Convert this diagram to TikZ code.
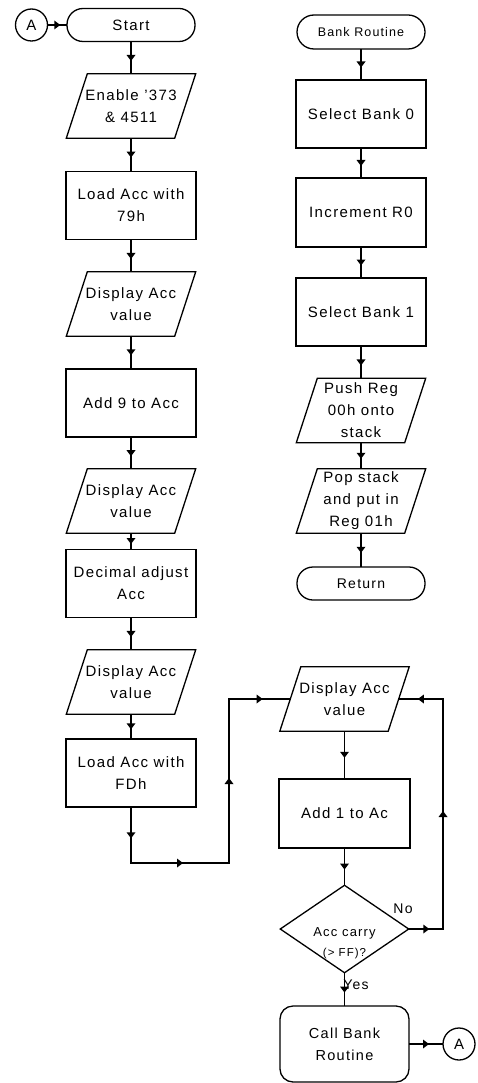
\documentclass[tikz,border=0pt]{standalone}
\usepackage{fontspec}
\setmainfont{Liberation Sans}[LetterSpace=9]
\usetikzlibrary{shapes.geometric,arrows.meta,decorations.markings,calc}
\newcommand{\paral}[4]{%
  \node[pnode] (#1) at (#2,#3) {#4};
  \draw[shapeline] (#1.south west) -- ($(#1.north west)+(21,0)$) -- (#1.north east) -- ($(#1.south east)+(-21,0)$) -- cycle;
}
\begin{document}
\begin{tikzpicture}[x=1pt,y=-1pt,
  shapeline/.style={line width=1.3pt, line join=miter},
  base/.style={inner sep=0pt, align=center, font=\fontsize{15}{22}\selectfont},
  procbox/.style={base, draw, shapeline, minimum width=130pt, minimum height=68pt},
  term/.style={base, draw, shapeline, minimum width=128pt, minimum height=33pt, rounded corners=16pt},
  pnode/.style={base, minimum width=129pt, minimum height=64pt},
  conn/.style={base, draw, shapeline, circle, minimum size=32pt},
  dia/.style={base, draw, shapeline, diamond, minimum width=129pt, minimum height=88pt, aspect=1.47},
  lab/.style={inner sep=0pt, font=\fontsize{14}{16}\selectfont},
  flow/.style={line width=1.1pt, line cap=rect, postaction=decorate,
    decoration={markings, mark=at position 0.5 with {\fill (3pt,0pt) -- (-3pt,4.5pt) -- (-3pt,-4.5pt) -- cycle;}}}
]
\useasboundingbox (0,0) rectangle (477,1083);

% left column
\node[conn] (ca1) at (31.5,25) {A};
\node[term] (start) at (131,25) {Start};
\paral{enable}{131}{106}{Enable '373\\\& 4511}
\node[procbox] (load79) at (131,205.5) {Load Acc with\\79h};
\paral{disp1}{131}{304}{Display Acc\\value}
\node[procbox] (add9) at (131,403) {Add 9 to Acc};
\paral{disp2}{131}{501}{Display Acc\\value}
\node[procbox] (dec) at (131,583.5) {Decimal adjust\\Acc};
\paral{disp3}{131}{682}{Display Acc\\value}
\node[procbox] (loadfd) at (131,773) {Load Acc with\\FDh};

% right column (bank routine)
\node[term, font=\fontsize{12.5}{14}\selectfont, minimum height=34pt, rounded corners=17pt] (bank) at (361,32) {Bank Routine};
\node[procbox] (sb0) at (361,114) {Select Bank 0};
\node[procbox, minimum height=69pt] (inc) at (361,212.5) {Increment R0};
\node[procbox] (sb1) at (361,312) {Select Bank 1};
\paral{push}{361}{410.5}{Push Reg\\00h onto\\stack}
\paral{pop}{361}{501}{Pop stack\\and put in\\Reg 01h}
\node[term, font=\fontsize{14}{16}\selectfont] (ret) at (361,583.5) {Return};

% lower right
\paral{disp4}{344.5}{699}{Display Acc\\value}
\node[procbox, minimum width=131pt, minimum height=69pt] (add1) at (344.5,813.5) {Add 1 to Ac};
\node[dia] (dia) at (344.5,929) {\raisebox{-16pt}[0pt][0pt]{\fontsize{13}{20}\selectfont\begin{tabular}{@{}c@{}}Acc carry\\{\fontsize{11.5}{12}\selectfont (> FF)?}\end{tabular}}};
\node[procbox, minimum width=129pt, minimum height=76pt, rounded corners=13pt, font=\fontsize{14.5}{22}\selectfont] (call) at (344.5,1044) {Call Bank\\Routine};
\node[conn] (ca2) at (459,1044) {A};
\node[lab] (no) at (403,909) {No};
\node[lab] (yes) at (356,985) {Yes};

% coordinates for loops
\coordinate (c1) at (131,863);
\coordinate (c2) at (229,863);
\coordinate (c3) at (229,699);
\coordinate (d1) at (443,929);
\coordinate (d2) at (443,699);

% connectors
\draw[flow] (ca1) -- (start);
\draw[flow] (start) -- (enable);
\draw[flow] (enable) -- (load79);
\draw[flow] (load79) -- (disp1);
\draw[flow] (disp1) -- (add9);
\draw[flow] (add9) -- (disp2);
\draw[flow] (disp2) -- (dec);
\draw[flow] (dec) -- (disp3);
\draw[flow] (disp3) -- (loadfd);
\draw[flow] (loadfd.south) -- (c1);
\draw[flow] (c1) -- (c2);
\draw[flow] (c2) -- (c3);
\draw[flow] (c3) -- ($(disp4.west)+(10.5,0)$);

\draw[flow] (bank) -- (sb0);
\draw[flow] (sb0) -- (inc);
\draw[flow] (inc) -- (sb1);
\draw[flow] (sb1) -- (push);
\draw[flow] (push) -- (pop);
\draw[flow] (pop) -- (ret);

\draw[flow] (disp4) -- (add1);
\draw[flow] (add1) -- (dia);
\draw[flow] (dia) -- (call);
\draw[flow] (dia.east) -- (d1);
\draw[flow] (d1) -- (d2);
\draw[flow] (d2) -- ($(disp4.east)+(-10.5,0)$);
\draw[flow] (call) -- (ca2);
\end{tikzpicture}
\end{document}
